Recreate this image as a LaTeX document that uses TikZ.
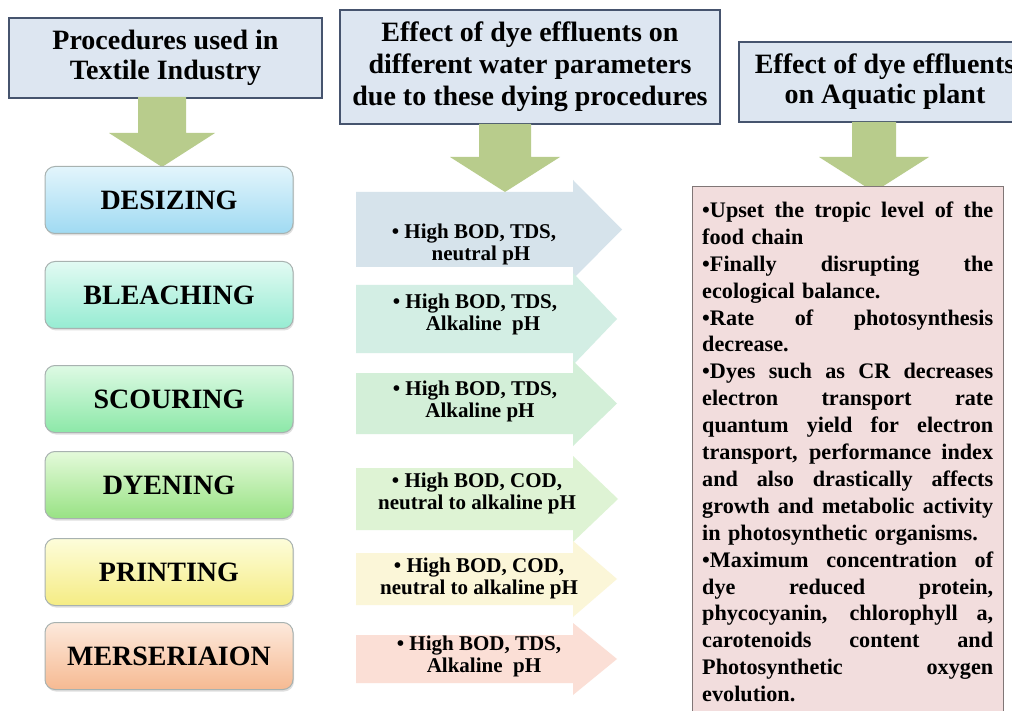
\documentclass[tikz,border=0pt]{standalone}
\usepackage{fontspec}
\setmainfont{Liberation Serif}
\usetikzlibrary{shadows,calc}

\definecolor{hdrfill}{RGB}{221,230,241}
\definecolor{hdrline}{RGB}{70,84,110}
\definecolor{leaf}{RGB}{184,204,140}
\definecolor{procline}{RGB}{168,178,176}
\definecolor{pinkfill}{RGB}{242,221,221}
\definecolor{pinkline}{RGB}{128,118,118}
% shaft colours of the parameter arrows
\definecolor{parA}{RGB}{214,227,235}
\definecolor{parB}{RGB}{211,238,228}
\definecolor{parC}{RGB}{211,239,216}
\definecolor{parD}{RGB}{222,243,212}
\definecolor{parE}{RGB}{251,246,216}
\definecolor{parF}{RGB}{251,223,214}

% one justified line of the effects list (spaces share the spare width)
\newcommand\jl[1]{\leavevmode\hbox to 291pt{\spaceskip=0.25em plus 1fil\relax #1}}

% green block arrow pointing down: x, top, shaft half-width, head start, head half-width, tip
\newcommand\leafarrow[6]{%
  \fill[leaf] ({#1-#3},#2) -- ({#1+#3},#2) -- ({#1+#3},#4) -- ({#1+#5},#4)
    -- (#1,#6) -- ({#1-#5},#4) -- ({#1-#3},#4) -- cycle;}

% pale block arrow pointing right: top, bottom, tip x, colour
\newcommand\pararrow[4]{%
  \fill[#4] (356,#1) -- (573,#1) -- (573,{#1-12}) -- (#3,{(#1+#2)/2})
    -- (573,{#2+12}) -- (573,#2) -- (356,#2) -- cycle;}

\tikzset{
  hdr/.style={draw=hdrline, line width=1.2pt, fill=hdrfill, inner sep=0pt,
    align=center, font=\bfseries\fontsize{28}{30}\selectfont},
  proc/.style={draw=procline, line width=1pt, rounded corners=10pt,
    minimum width=248pt, minimum height=67pt, inner sep=0pt,
    font=\bfseries\fontsize{28}{30}\selectfont,
    drop shadow={shadow xshift=1pt, shadow yshift=-2pt, opacity=0.25}},
  midtxt/.style={align=center, inner sep=0pt,
    font=\bfseries\fontsize{21}{22}\selectfont},
}

\begin{document}
\begin{tikzpicture}[x=1pt, y=-1pt]
\useasboundingbox (0,0) rectangle (1012,711);
\clip (0,0) rectangle (1012,711);
\fill[white] (0,0) rectangle (1012,711);

% column headers
\node[hdr, minimum width=313pt, minimum height=80pt] (h1) at (165.5,58)
  {Procedures used in\\Textile Industry};
\node[hdr, minimum width=380pt, minimum height=114pt,
  font=\bfseries\fontsize{28}{32}\selectfont] (h2) at (530,67)
  {Effect of dye effluents on\\different water parameters\\due to these dying procedures};
\node[hdr, minimum width=292pt, minimum height=80pt] (h3) at (885,82)
  {Effect of dye effluents\\on Aquatic plant};

% arrows below the headers
\leafarrow{162}{97}{24}{133}{53}{167}
\leafarrow{505}{124}{26}{157}{55}{192}
\leafarrow{874}{122}{22}{157}{55}{192}

% textile procedures
\node[proc, top color={rgb,255:red,226;green,245;blue,252}, bottom color={rgb,255:red,160;green,218;blue,242}] (p1) at (169,200) {DESIZING};
\node[proc, top color={rgb,255:red,226;green,250;blue,243}, bottom color={rgb,255:red,150;green,236;blue,210}] (p2) at (169,295) {BLEACHING};
\node[proc, top color={rgb,255:red,222;green,250;blue,228}, bottom color={rgb,255:red,140;green,232;blue,168}] (p3) at (169,399) {SCOURING};
\node[proc, top color={rgb,255:red,228;green,250;blue,218}, bottom color={rgb,255:red,152;green,226;blue,132}] (p4) at (169,485) {DYENING};
\node[proc, top color={rgb,255:red,253;green,253;blue,218}, bottom color={rgb,255:red,245;green,236;blue,132}] (p5) at (169,572) {PRINTING};
\node[proc, top color={rgb,255:red,253;green,233;blue,220}, bottom color={rgb,255:red,246;green,186;blue,146}] (p6) at (169,656) {MERSERIAION};

% water parameters
\pararrow{192}{267}{622}{parA}
\pararrow{285}{353}{617}{parB}
\pararrow{373}{434}{617}{parC}
\pararrow{468}{530}{618}{parD}
\pararrow{553}{605}{617}{parE}
\pararrow{635}{683}{617}{parF}

\node[midtxt] (w1) at (474,244) {\textbullet\ High BOD, TDS,\\\hspace*{14pt}neutral pH};
\node[midtxt] (w2) at (475,314) {\textbullet\ High BOD, TDS,\\\hspace*{16pt}Alkaline\ \ pH};
\node[midtxt] (w3) at (475,401) {\textbullet\ High BOD, TDS,\\\hspace*{10pt}Alkaline pH};
\node[midtxt] (w4) at (477,493) {\textbullet\ High BOD, COD,\\neutral to alkaline pH};
\node[midtxt] (w5) at (479,578) {\textbullet\ High BOD, COD,\\neutral to alkaline pH};
\node[midtxt] (w6) at (479,656) {\textbullet\ High BOD, TDS,\\\hspace*{10pt}Alkaline\ \ pH};

% effects on aquatic plants
\node[draw=pinkline, line width=1pt, fill=pinkfill, minimum width=311pt,
  minimum height=545pt, inner sep=0pt] (eff) at (847.5,459.5) {};
\node[anchor=base west, inner sep=0pt, text width=291pt, align=left,
  font=\bfseries\fontsize{22.2}{26.9}\selectfont] (efftxt) at (702,217.5) {%
\jl{\textbullet Upset the tropic level of the}\\
food chain\\
\jl{\textbullet Finally disrupting the}\\
ecological balance.\\
\jl{\textbullet Rate of photosynthesis}\\
decrease.\\
\jl{\textbullet Dyes such as CR decreases}\\
\jl{electron transport rate}\\
\jl{quantum yield for electron}\\
\jl{transport, performance index}\\
\jl{and also drastically affects}\\
\jl{growth and metabolic activity}\\
in photosynthetic organisms.\\
\jl{\textbullet Maximum concentration of}\\
\jl{dye reduced protein,}\\
\jl{phycocyanin, chlorophyll a,}\\
\jl{carotenoids content and}\\
\jl{Photosynthetic oxygen}\\
evolution.};
\end{tikzpicture}
\end{document}
